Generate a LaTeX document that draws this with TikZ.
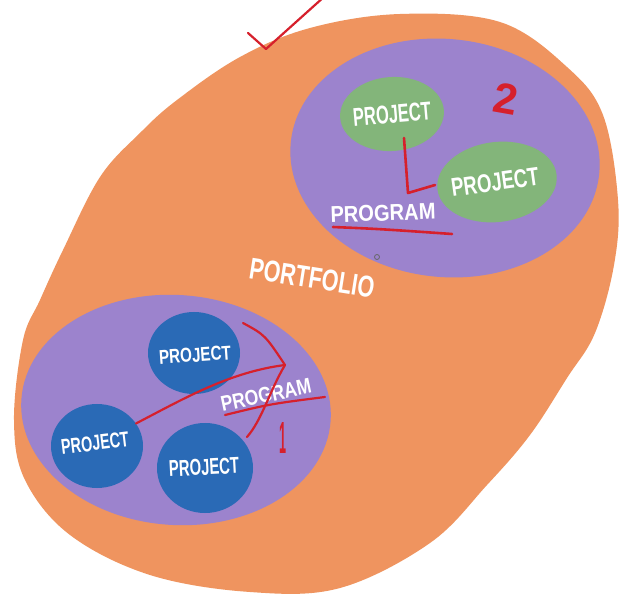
\documentclass[tikz,border=0pt]{standalone}
\usepackage{fontspec}
\usepackage{graphicx}
\setsansfont{Liberation Sans}
\usetikzlibrary{shapes.geometric}
\definecolor{orangeblob}{RGB}{239,148,95}
\definecolor{purplebg}{RGB}{156,131,205}
\definecolor{greenproj}{RGB}{131,181,122}
\definecolor{blueproj}{RGB}{42,106,182}
\definecolor{redpen}{RGB}{214,32,44}
\newcommand{\handtxt}[3]{\resizebox{#1pt}{#2pt}{\sffamily\bfseries #3}}
\tikzset{
  blob/.style={ellipse, inner sep=0pt, draw=none},
  wtext/.style={text=white, inner sep=0pt},
  redline/.style={draw=redpen, line width=2.6pt, line cap=round, line join=round},
}
\begin{document}
\begin{tikzpicture}[x=1pt,y=-1pt]
\path[use as bounding box] (0,0) rectangle (630,604);
\clip (0,0) rectangle (630,604);
\fill[white] (0,0) rectangle (630,604);
% portfolio blob
\fill[orangeblob] plot[smooth cycle, tension=0.6] coordinates {
 (400,14) (500,22) (567,67) (603,115) (618,200) (614,265) (595,333) (567,378)
 (530,435) (487,485) (430,543) (340,588) (250,592) (150,575) (70,535) (25,480)
 (14,420) (23,340) (40,300) (63,250) (100,177) (140,133) (177,100) (240,57) (310,28)};
% programs
\node[blob, fill=purplebg, minimum width=310, minimum height=238, rotate=-6] (prog2) at (445,158) {};
\node[blob, fill=purplebg, minimum width=310, minimum height=230, rotate=-4] (prog1) at (176,410) {};
% projects (program 2)
\node[blob, fill=greenproj, minimum width=104, minimum height=74, rotate=4] (g1) at (392,114) {};
\node[blob, fill=greenproj, minimum width=120, minimum height=80, rotate=7] (g2) at (497,182) {};
% projects (program 1)
\node[blob, fill=blueproj, minimum width=92, minimum height=82] (b1) at (194,353) {};
\node[blob, fill=blueproj, minimum width=92, minimum height=84] (b2) at (97,446) {};
\node[blob, fill=blueproj, minimum width=96, minimum height=90] (b3) at (205,468) {};
% labels
\node[wtext, rotate=5] (t1) at (g1) {\handtxt{78}{18}{PROJECT}};
\node[wtext, rotate=8] (t2) at (495,182) {\handtxt{88}{18}{PROJECT}};
\node[wtext, rotate=2] (t3) at (383,213) {\handtxt{105}{16}{PROGRAM}};
\node[wtext, rotate=4] (t4) at (195,355) {\handtxt{72}{14}{PROJECT}};
\node[wtext, rotate=7] (t5) at (95,443) {\handtxt{68}{15}{PROJECT}};
\node[wtext, rotate=3] (t6) at (204,467) {\handtxt{70}{16}{PROJECT}};
\node[wtext, rotate=12] (t7) at (266,395) {\handtxt{92}{15}{PROGRAM}};
\node[wtext, rotate=-9] (t8) at (312,278) {\handtxt{126}{21}{PORTFOLIO}};
\node[text=redpen, inner sep=0pt, rotate=-10] (n2) at (506,99) {\handtxt{24}{30}{2}};
\node[text=redpen, inner sep=0pt] (n1) at (283,438) {\handtxt{7}{31}{1}};
% red marks, program 2
\coordinate (c1) at (408,193);
\draw[redline] (404,138) -- (c1) -- (435,185);
\draw[redline] (333,227) .. controls (380,229) .. (452,234);
% red marks, program 1
\coordinate (tip) at (285,365);
\draw[redline, line width=2.2pt] (b2.30) .. controls (185,398) and (230,372) .. (tip);
\draw[redline, line width=2.2pt] (243,323) .. controls (265,335) .. (tip)
   .. controls (270,390) and (262,420) .. (247,437);
\draw[redline, line width=2.2pt] (225,415) .. controls (270,404) .. (325,397);
% check mark
\draw[redline, line width=2.2pt] (248,33) -- (266,49) -- (325,-4);
% small cursor mark
\draw[black!60, line width=0.8pt] (377,257) circle (2.5);
\end{tikzpicture}
\end{document}
